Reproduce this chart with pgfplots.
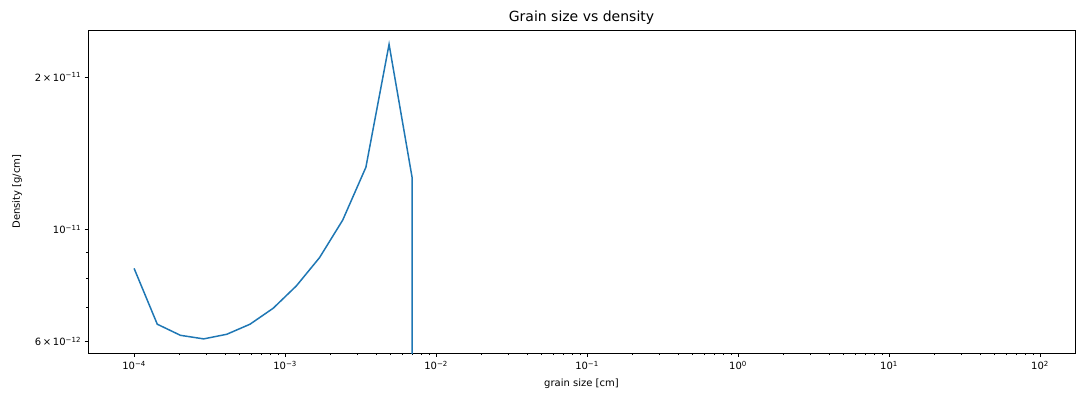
\documentclass[border=0pt]{standalone}
\usepackage{fontspec}
\setmainfont{DejaVu Sans}
\usepackage{pgfplots}
\pgfplotsset{compat=1.18}
\definecolor{mplblue}{HTML}{1F77B4}
\begin{document}
\begin{tikzpicture}
\begin{axis}[
  scale only axis,
  width=987pt, height=323pt,
  xmode=log, ymode=log,
  xmin=4.95e-5, xmax=170.6,
  ymin=5.69e-12, ymax=2.48e-11,
  axis line style={line width=0.8pt},
  xtick pos=left, ytick pos=left,
  tick align=outside,
  tick style={black, line width=0.8pt},
  major tick length=3.5pt,
  minor tick length=2pt,
  xtick={1e-4,1e-3,1e-2,1e-1,1,10,100},
  xticklabels={10\textsuperscript{−4},10\textsuperscript{−3},10\textsuperscript{−2},10\textsuperscript{−1},10\textsuperscript{0},10\textsuperscript{1},10\textsuperscript{2}},
  ytick={6e-12,1e-11,2e-11},
  yticklabels={6\,×\,10\textsuperscript{−12},10\textsuperscript{−11},2\,×\,10\textsuperscript{−11}},
  minor ytick={7e-12,8e-12,9e-12},
  ticklabel style={font=\fontsize{10}{12}\selectfont},
  xticklabel style={yshift=-1pt},
  xlabel={grain size [cm]},
  ylabel={Density [g/cm]},
  label style={font=\fontsize{10}{12}\selectfont},
  xlabel style={yshift=-2pt},
  ylabel style={yshift=6pt},
  title={Grain size vs density},
  title style={font=\fontsize{14}{16}\selectfont, yshift=-4pt},
]
\addplot[mplblue, line width=1.5pt] coordinates {
(1.000e-4, 8.37e-12)
(1.424e-4, 6.49e-12)
(2.028e-4, 6.17e-12)
(2.888e-4, 6.07e-12)
(4.113e-4, 6.20e-12)
(5.857e-4, 6.49e-12)
(8.340e-4, 6.98e-12)
(1.188e-3, 7.73e-12)
(1.691e-3, 8.79e-12)
(2.408e-3, 1.043e-11)
(3.430e-3, 1.327e-11)
(4.884e-3, 2.324e-11)
(6.955e-3, 1.262e-11)
(6.955e-3, 1e-14)
};
\end{axis}
\pgfresetboundingbox
\path ([shift={(-88pt,-41pt)}]current axis.south west) rectangle ([shift={(1pt,30pt)}]current axis.north east);
\end{tikzpicture}
\end{document}
